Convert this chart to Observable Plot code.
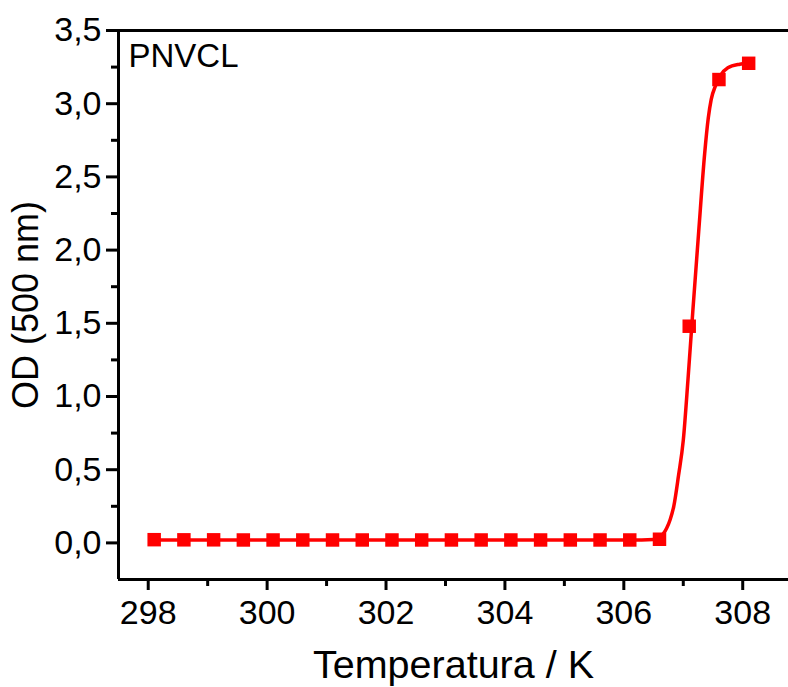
<!DOCTYPE html>
<html><head><meta charset="utf-8">
<script src="https://cdn.jsdelivr.net/npm/d3@7"></script>
<script src="https://cdn.jsdelivr.net/npm/@observablehq/plot@0.6"></script>
<style>html,body{margin:0;padding:0;background:#fff;overflow:hidden}</style>
</head><body><div id="chart"></div>
<script>
// measured points
const temps = [298.1, 298.6, 299.1, 299.6, 300.1, 300.6, 301.1, 301.6, 302.1, 302.6, 303.1, 303.6, 304.1, 304.6, 305.1, 305.6, 306.1, 306.6, 307.1, 307.6, 308.1];
const od    = [0.022, 0.021, 0.021, 0.02, 0.02, 0.02, 0.02, 0.02, 0.02, 0.02, 0.02, 0.02, 0.02, 0.02, 0.02, 0.02, 0.02, 0.025, 1.48, 3.165, 3.276];
// fitted curve
const fitT  = [298.1, 306.1, 306.5, 306.6, 306.66, 306.72, 306.78, 306.84, 306.92, 307.0, 307.08, 307.16, 307.26, 307.36, 307.42, 307.47, 307.54, 307.62, 307.75, 307.95, 308.12];
const fitOD = [0.02, 0.02, 0.024, 0.035, 0.06, 0.1, 0.16, 0.25, 0.46, 0.7, 1.12, 1.58, 2.13, 2.66, 2.9, 3.03, 3.12, 3.19, 3.245, 3.27, 3.278];
const xMajor = [298, 300, 302, 304, 306, 308];
const xMinor = [299, 301, 303, 305, 307];
const yMajor = [0, 0.5, 1, 1.5, 2, 2.5, 3, 3.5];
const yMinor = [0.25, 0.75, 1.25, 1.75, 2.25, 2.75, 3.25];
const seriesName = "PNVCL";
const xTitle = "Temperatura / K";
const yTitle = "OD (500 nm)";

const pts = temps.map((t, i) => ({t, v: od[i]}));
const fit = fitT.map((t, i) => ({t, v: fitOD[i]}));

const chart = Plot.plot({
  width: 788, height: 687,
  marginLeft: 118, marginTop: 30, marginBottom: 108, marginRight: 0,
  x: {domain: [297.5, 308.77]},
  y: {domain: [-0.25, 3.5]},
  style: {fontFamily: "'Liberation Sans', Arial, sans-serif", background: "#fff", color: "#000"},
  marks: [
    Plot.axisX(xMajor, {tickSize: 11, tickPadding: 9, strokeWidth: 3, fontSize: 34, tickFormat: d => String(d), label: null}),
    Plot.axisX(xMinor, {tickSize: 7, strokeWidth: 3, tickFormat: () => "", label: null}),
    Plot.axisY(yMajor, {tickSize: 12, tickPadding: 5, strokeWidth: 3, fontSize: 34, tickFormat: d => d.toFixed(1).replace(".", ","), label: null}),
    Plot.axisY(yMinor, {tickSize: 7, strokeWidth: 3, tickFormat: () => "", label: null}),
    Plot.ruleX([297.5], {stroke: "#000", strokeWidth: 3}),
    Plot.ruleY([-0.25], {stroke: "#000", strokeWidth: 3}),
    Plot.ruleY([3.5], {stroke: "#000", strokeWidth: 3}),
    Plot.line(fit, {x: "t", y: "v", stroke: "#ff0000", strokeWidth: 3.5, curve: "monotone-x"}),
    Plot.dot(pts, {x: "t", y: "v", symbol: "square", r: 7.6, fill: "#ff0000", stroke: "none"}),
    Plot.text([seriesName], {frameAnchor: "top-left", dx: 10, dy: 13, textAnchor: "start", lineAnchor: "top", fontSize: 33, fill: "#000"}),
    Plot.text([xTitle], {frameAnchor: "bottom", dy: 98, textAnchor: "middle", fontSize: 39.5, fill: "#000"}),
    Plot.text([yTitle], {frameAnchor: "left", dx: -92, textAnchor: "middle", rotate: -90, fontSize: 36, fill: "#000"})
  ]
});
document.getElementById("chart").appendChild(chart);
</script>
</body></html>
